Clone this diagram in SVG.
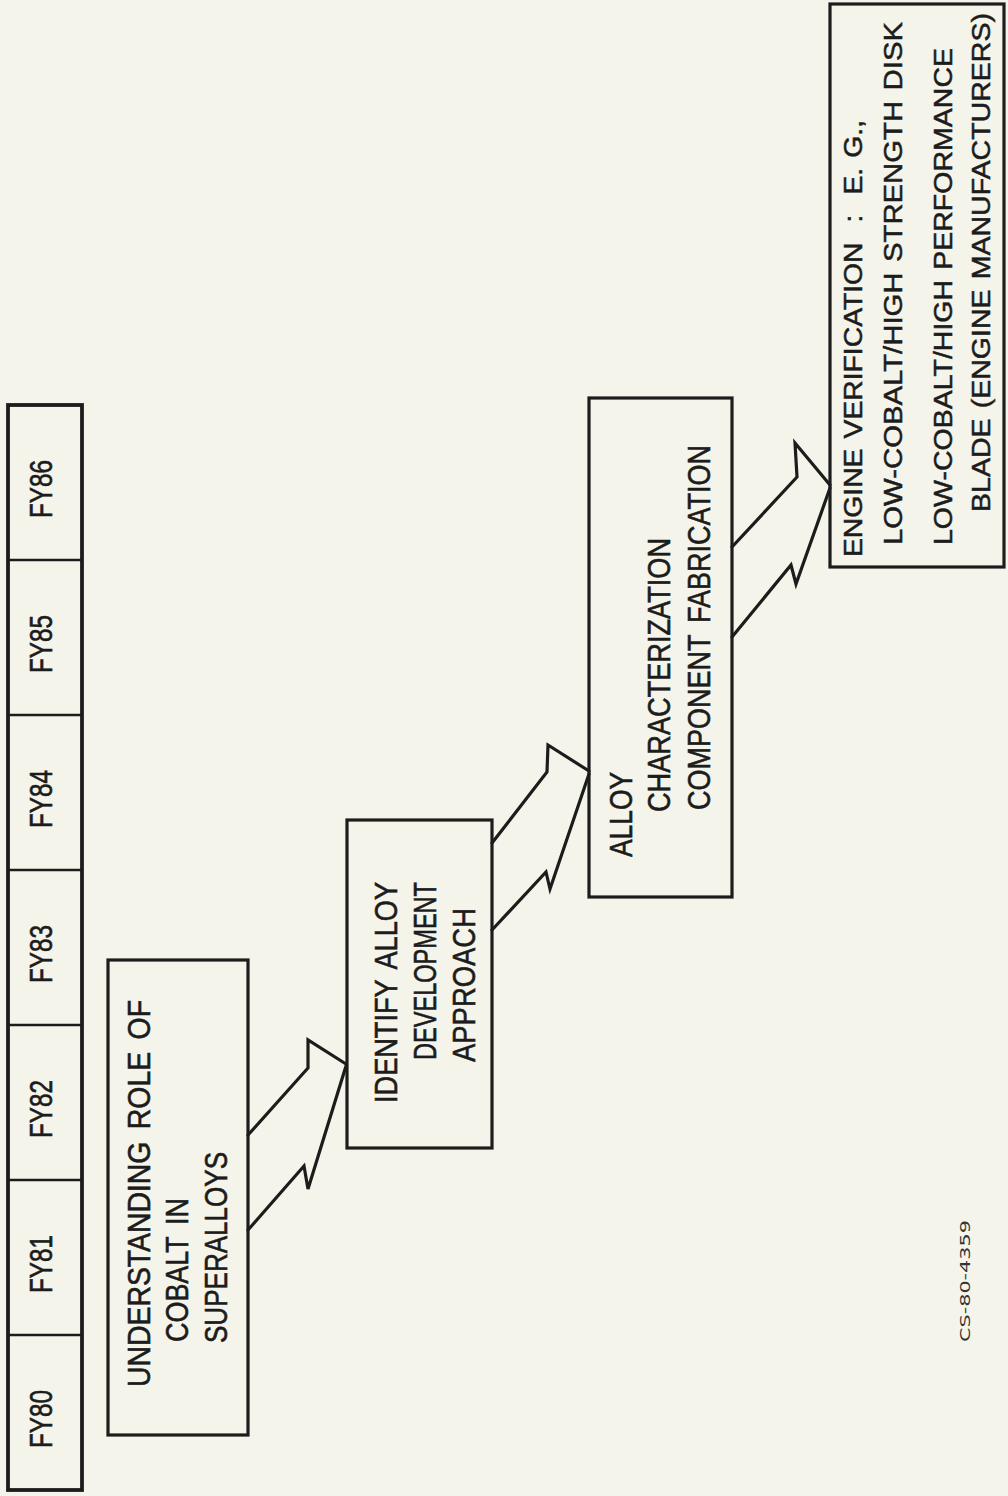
<svg xmlns="http://www.w3.org/2000/svg" width="1008" height="1496" viewBox="0 0 1008 1496">
<style>
.bg{fill:#f4f4ea}
.box{fill:none;stroke:#1c1c1c;stroke-width:3.2}
.cell{fill:none;stroke:#1c1c1c;stroke-width:2.5}
.arr{fill:none;stroke:#1c1c1c;stroke-width:3.2;stroke-linejoin:miter;stroke-linecap:round}
.t{font-family:"Liberation Sans",Arial,sans-serif;font-size:31px;fill:#1c1c1c;stroke:#1c1c1c;stroke-width:0.6;word-spacing:5px}
.t4{font-family:"Liberation Sans",Arial,sans-serif;font-size:26px;fill:#1c1c1c;stroke:#1c1c1c;stroke-width:0.5;word-spacing:2px}
.fy{font-family:"Liberation Sans",Arial,sans-serif;font-size:31px;fill:#1c1c1c;stroke:#1c1c1c;stroke-width:0.6;text-anchor:middle}
.id{font-family:"DejaVu Sans",sans-serif;font-size:14px;fill:#333}
</style>
<rect class="bg" x="0" y="0" width="1008" height="1496"/>

<g id="timeline">
<rect x="8" y="405" width="74" height="1085" class="box" style="stroke-width:3.8"/>
<line class="cell" x1="8" y1="560" x2="82" y2="560"/>
<line class="cell" x1="8" y1="715" x2="82" y2="715"/>
<line class="cell" x1="8" y1="870" x2="82" y2="870"/>
<line class="cell" x1="8" y1="1025" x2="82" y2="1025"/>
<line class="cell" x1="8" y1="1180" x2="82" y2="1180"/>
<line class="cell" x1="8" y1="1335" x2="82" y2="1335"/>
<text class="fy" transform="translate(52,489) rotate(-90)" textLength="58" lengthAdjust="spacingAndGlyphs">FY86</text>
<text class="fy" transform="translate(52,644) rotate(-90)" textLength="58" lengthAdjust="spacingAndGlyphs">FY85</text>
<text class="fy" transform="translate(52,799) rotate(-90)" textLength="58" lengthAdjust="spacingAndGlyphs">FY84</text>
<text class="fy" transform="translate(52,954) rotate(-90)" textLength="58" lengthAdjust="spacingAndGlyphs">FY83</text>
<text class="fy" transform="translate(52,1109) rotate(-90)" textLength="58" lengthAdjust="spacingAndGlyphs">FY82</text>
<text class="fy" transform="translate(52,1264) rotate(-90)" textLength="58" lengthAdjust="spacingAndGlyphs">FY81</text>
<text class="fy" transform="translate(52,1419) rotate(-90)" textLength="58" lengthAdjust="spacingAndGlyphs">FY80</text>
</g>

<g id="node1">
<rect class="box" x="108" y="960" width="140" height="475"/>
<text class="t" transform="translate(150,1387) rotate(-90)" textLength="387" lengthAdjust="spacingAndGlyphs">UNDERSTANDING ROLE OF</text>
<text class="t" transform="translate(188,1342) rotate(-90)" textLength="144" lengthAdjust="spacingAndGlyphs">COBALT IN</text>
<text class="t" transform="translate(227,1343) rotate(-90)" textLength="191" lengthAdjust="spacingAndGlyphs">SUPERALLOYS</text>
</g>

<g id="node2">
<rect class="box" x="347" y="820" width="145" height="328"/>
<text class="t" transform="translate(397,1103) rotate(-90)" textLength="221" lengthAdjust="spacingAndGlyphs">IDENTIFY ALLOY</text>
<text class="t" transform="translate(436,1060) rotate(-90)" textLength="178" lengthAdjust="spacingAndGlyphs">DEVELOPMENT</text>
<text class="t" transform="translate(475,1062) rotate(-90)" textLength="154" lengthAdjust="spacingAndGlyphs">APPROACH</text>
</g>

<g id="node3">
<rect class="box" x="589" y="398" width="143" height="499"/>
<text class="t" transform="translate(632,857) rotate(-90)" textLength="85" lengthAdjust="spacingAndGlyphs">ALLOY</text>
<text class="t" transform="translate(670,812) rotate(-90)" textLength="274" lengthAdjust="spacingAndGlyphs">CHARACTERIZATION</text>
<text class="t" transform="translate(710,810) rotate(-90)" textLength="365" lengthAdjust="spacingAndGlyphs">COMPONENT FABRICATION</text>
</g>

<g id="node4">
<rect class="box" x="830" y="4" width="174" height="563"/>
<text class="t4" transform="translate(862,557) rotate(-90)" textLength="437" lengthAdjust="spacingAndGlyphs">ENGINE VERIFICATION&#160;&#160;:&#160;&#160;E. G.,</text>
<text class="t4" transform="translate(902,545) rotate(-90)" textLength="523" lengthAdjust="spacingAndGlyphs">LOW-COBALT/HIGH STRENGTH DISK</text>
<text class="t4" transform="translate(952,545) rotate(-90)" textLength="497" lengthAdjust="spacingAndGlyphs">LOW-COBALT/HIGH PERFORMANCE</text>
<text class="t4" transform="translate(990,512) rotate(-90)" textLength="499" lengthAdjust="spacingAndGlyphs">BLADE (ENGINE MANUFACTURERS)</text>
</g>

<g id="connectors">
<polyline class="arr" points="248,1135 308,1068 308,1040 346,1064"/>
<polyline class="arr" points="248,1230 304,1166 308,1189 346,1066"/>
<polyline class="arr" points="492,843 547,772 548,745 589,771"/>
<polyline class="arr" points="492,930 546,872 550,889 589,774"/>
<polyline class="arr" points="732,547 797,477 795,443 830,485"/>
<polyline class="arr" points="732,637 791,565 796,584 830,488"/>
</g>

<text class="id" transform="translate(970,1342) rotate(-90)" textLength="122" lengthAdjust="spacingAndGlyphs">CS-80-4359</text>
</svg>
